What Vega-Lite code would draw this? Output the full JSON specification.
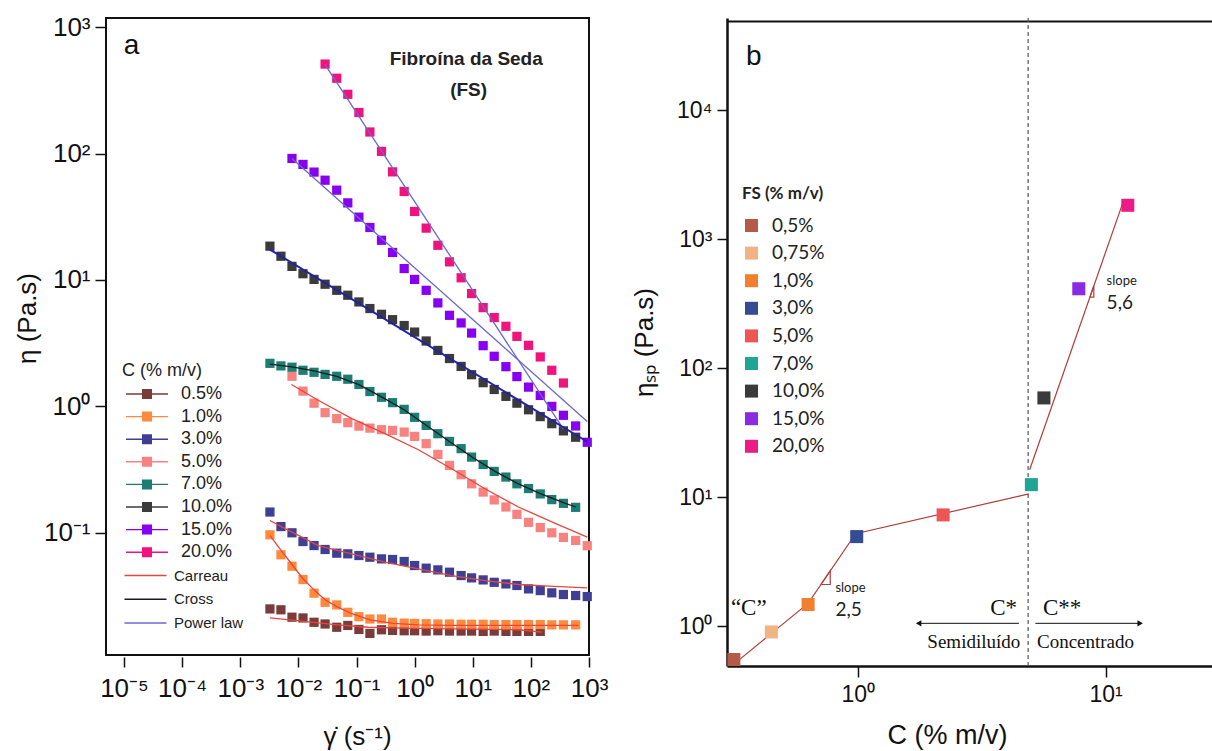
{
"$schema":"https://vega.github.io/schema/vega-lite/v6.json",
"padding":{"left":13,"top":13,"right":0,"bottom":0},
"background":"white",
"config":{
 "view":{"stroke":"#111","strokeWidth":2},
 "font":"Liberation Sans",
 "axis":{"grid":false,"labelFont":"Liberation Sans","titleFont":"Liberation Sans","labelColor":"#111","titleColor":"#111","tickColor":"#111","domainColor":"#111","labelFlush":false,"labelOverlap":false},
 "legend":{"labelColor":"#222","titleColor":"#222"}
},
"spacing":138,
"bounds":"flush",
"resolve":{"scale":{"fill":"independent","stroke":"independent","shape":"independent","color":"independent"}},
"datasets":{
"eta":[
{"c":"0.5%","x":0.00324,"y":0.025},{"c":"0.5%","x":0.00501,"y":0.0246},{"c":"0.5%","x":0.00776,"y":0.0215},{"c":"0.5%","x":0.012,"y":0.0212},{"c":"0.5%","x":0.0186,"y":0.0196},{"c":"0.5%","x":0.0288,"y":0.019},{"c":"0.5%","x":0.0457,"y":0.0179},{"c":"0.5%","x":0.0708,"y":0.0185},{"c":"0.5%","x":0.11,"y":0.0172},{"c":"0.5%","x":0.17,"y":0.016},{"c":"0.5%","x":0.269,"y":0.0171},{"c":"0.5%","x":0.417,"y":0.0169},{"c":"0.5%","x":0.661,"y":0.0168},{"c":"0.5%","x":1,"y":0.0168},{"c":"0.5%","x":1.58,"y":0.0167},{"c":"0.5%","x":2.51,"y":0.0168},{"c":"0.5%","x":3.98,"y":0.0167},{"c":"0.5%","x":6.31,"y":0.0167},{"c":"0.5%","x":9.55,"y":0.0167},{"c":"0.5%","x":15.1,"y":0.0166},{"c":"0.5%","x":23.4,"y":0.0167},{"c":"0.5%","x":37.2,"y":0.0166},{"c":"0.5%","x":57.5,"y":0.0166},{"c":"0.5%","x":91.2,"y":0.0166},{"c":"0.5%","x":145,"y":0.0166},
{"c":"1.0%","x":0.00324,"y":0.0964},{"c":"1.0%","x":0.00501,"y":0.067},{"c":"1.0%","x":0.00776,"y":0.0544},{"c":"1.0%","x":0.012,"y":0.0427},{"c":"1.0%","x":0.0186,"y":0.0333},{"c":"1.0%","x":0.0288,"y":0.0282},{"c":"1.0%","x":0.0457,"y":0.0269},{"c":"1.0%","x":0.0708,"y":0.0235},{"c":"1.0%","x":0.11,"y":0.0217},{"c":"1.0%","x":0.17,"y":0.0208},{"c":"1.0%","x":0.269,"y":0.0208},{"c":"1.0%","x":0.417,"y":0.0196},{"c":"1.0%","x":0.661,"y":0.0193},{"c":"1.0%","x":1,"y":0.0192},{"c":"1.0%","x":1.58,"y":0.0191},{"c":"1.0%","x":2.51,"y":0.019},{"c":"1.0%","x":3.98,"y":0.019},{"c":"1.0%","x":6.31,"y":0.0189},{"c":"1.0%","x":9.55,"y":0.0189},{"c":"1.0%","x":15.1,"y":0.0189},{"c":"1.0%","x":23.4,"y":0.0188},{"c":"1.0%","x":37.2,"y":0.0188},{"c":"1.0%","x":57.5,"y":0.0188},{"c":"1.0%","x":91.2,"y":0.0188},{"c":"1.0%","x":145,"y":0.0188},{"c":"1.0%","x":229,"y":0.0187},{"c":"1.0%","x":363,"y":0.0187},{"c":"1.0%","x":589,"y":0.0187},
{"c":"3.0%","x":0.00324,"y":0.146},{"c":"3.0%","x":0.00501,"y":0.112},{"c":"3.0%","x":0.00776,"y":0.1},{"c":"3.0%","x":0.012,"y":0.0853},{"c":"3.0%","x":0.0186,"y":0.0793},{"c":"3.0%","x":0.0288,"y":0.0738},{"c":"3.0%","x":0.0457,"y":0.069},{"c":"3.0%","x":0.0708,"y":0.0682},{"c":"3.0%","x":0.11,"y":0.0661},{"c":"3.0%","x":0.17,"y":0.0641},{"c":"3.0%","x":0.269,"y":0.0622},{"c":"3.0%","x":0.417,"y":0.0615},{"c":"3.0%","x":0.661,"y":0.0593},{"c":"3.0%","x":1,"y":0.0551},{"c":"3.0%","x":1.58,"y":0.0525},{"c":"3.0%","x":2.51,"y":0.0509},{"c":"3.0%","x":3.98,"y":0.0488},{"c":"3.0%","x":6.31,"y":0.0459},{"c":"3.0%","x":9.55,"y":0.044},{"c":"3.0%","x":15.1,"y":0.0424},{"c":"3.0%","x":23.4,"y":0.0406},{"c":"3.0%","x":37.2,"y":0.0394},{"c":"3.0%","x":57.5,"y":0.0383},{"c":"3.0%","x":91.2,"y":0.036},{"c":"3.0%","x":145,"y":0.0349},{"c":"3.0%","x":229,"y":0.0335},{"c":"3.0%","x":363,"y":0.0325},{"c":"3.0%","x":589,"y":0.0319},{"c":"3.0%","x":933,"y":0.0313},
{"c":"5.0%","x":0.00776,"y":1.73},{"c":"5.0%","x":0.012,"y":1.32},{"c":"5.0%","x":0.0186,"y":1.06},{"c":"5.0%","x":0.0288,"y":0.892},{"c":"5.0%","x":0.0457,"y":0.8},{"c":"5.0%","x":0.0708,"y":0.743},{"c":"5.0%","x":0.11,"y":0.698},{"c":"5.0%","x":0.17,"y":0.673},{"c":"5.0%","x":0.269,"y":0.654},{"c":"5.0%","x":0.417,"y":0.645},{"c":"5.0%","x":0.661,"y":0.626},{"c":"5.0%","x":1,"y":0.579},{"c":"5.0%","x":1.58,"y":0.507},{"c":"5.0%","x":2.51,"y":0.417},{"c":"5.0%","x":3.98,"y":0.341},{"c":"5.0%","x":6.31,"y":0.288},{"c":"5.0%","x":9.55,"y":0.244},{"c":"5.0%","x":15.1,"y":0.21},{"c":"5.0%","x":23.4,"y":0.182},{"c":"5.0%","x":37.2,"y":0.16},{"c":"5.0%","x":57.5,"y":0.14},{"c":"5.0%","x":91.2,"y":0.121},{"c":"5.0%","x":145,"y":0.11},{"c":"5.0%","x":229,"y":0.1},{"c":"5.0%","x":363,"y":0.092},{"c":"5.0%","x":589,"y":0.087},{"c":"5.0%","x":933,"y":0.079},
{"c":"7.0%","x":0.00324,"y":2.19},{"c":"7.0%","x":0.00501,"y":2.09},{"c":"7.0%","x":0.00776,"y":2.04},{"c":"7.0%","x":0.012,"y":1.93},{"c":"7.0%","x":0.0186,"y":1.86},{"c":"7.0%","x":0.0288,"y":1.79},{"c":"7.0%","x":0.0457,"y":1.73},{"c":"7.0%","x":0.0708,"y":1.64},{"c":"7.0%","x":0.11,"y":1.49},{"c":"7.0%","x":0.17,"y":1.31},{"c":"7.0%","x":0.269,"y":1.18},{"c":"7.0%","x":0.417,"y":1.07},{"c":"7.0%","x":0.661,"y":0.947},{"c":"7.0%","x":1,"y":0.819},{"c":"7.0%","x":1.58,"y":0.707},{"c":"7.0%","x":2.51,"y":0.608},{"c":"7.0%","x":3.98,"y":0.528},{"c":"7.0%","x":6.31,"y":0.463},{"c":"7.0%","x":9.55,"y":0.397},{"c":"7.0%","x":15.1,"y":0.347},{"c":"7.0%","x":23.4,"y":0.306},{"c":"7.0%","x":37.2,"y":0.276},{"c":"7.0%","x":57.5,"y":0.244},{"c":"7.0%","x":91.2,"y":0.224},{"c":"7.0%","x":145,"y":0.203},{"c":"7.0%","x":229,"y":0.183},{"c":"7.0%","x":363,"y":0.171},{"c":"7.0%","x":589,"y":0.159},
{"c":"10.0%","x":0.00324,"y":18.5},{"c":"10.0%","x":0.00501,"y":15.4},{"c":"10.0%","x":0.00776,"y":12.8},{"c":"10.0%","x":0.012,"y":11.2},{"c":"10.0%","x":0.0186,"y":10.1},{"c":"10.0%","x":0.0288,"y":9.25},{"c":"10.0%","x":0.0457,"y":8.28},{"c":"10.0%","x":0.0708,"y":7.57},{"c":"10.0%","x":0.11,"y":6.7},{"c":"10.0%","x":0.17,"y":5.94},{"c":"10.0%","x":0.269,"y":5.35},{"c":"10.0%","x":0.417,"y":4.85},{"c":"10.0%","x":0.661,"y":4.36},{"c":"10.0%","x":1,"y":3.87},{"c":"10.0%","x":1.58,"y":3.29},{"c":"10.0%","x":2.51,"y":2.77},{"c":"10.0%","x":3.98,"y":2.39},{"c":"10.0%","x":6.31,"y":2.07},{"c":"10.0%","x":9.55,"y":1.78},{"c":"10.0%","x":15.1,"y":1.54},{"c":"10.0%","x":23.4,"y":1.36},{"c":"10.0%","x":37.2,"y":1.2},{"c":"10.0%","x":57.5,"y":1.06},{"c":"10.0%","x":91.2,"y":0.94},{"c":"10.0%","x":145,"y":0.83},{"c":"10.0%","x":229,"y":0.73},{"c":"10.0%","x":363,"y":0.64},{"c":"10.0%","x":589,"y":0.57},
{"c":"15.0%","x":0.00776,"y":91.4},{"c":"15.0%","x":0.012,"y":82},{"c":"15.0%","x":0.0186,"y":71.3},{"c":"15.0%","x":0.0288,"y":61.5},{"c":"15.0%","x":0.0457,"y":51.3},{"c":"15.0%","x":0.0708,"y":40.7},{"c":"15.0%","x":0.11,"y":31.4},{"c":"15.0%","x":0.17,"y":26},{"c":"15.0%","x":0.269,"y":20.6},{"c":"15.0%","x":0.417,"y":16.5},{"c":"15.0%","x":0.661,"y":12.3},{"c":"15.0%","x":1,"y":10.1},{"c":"15.0%","x":1.58,"y":8.28},{"c":"15.0%","x":2.51,"y":6.58},{"c":"15.0%","x":3.98,"y":5.25},{"c":"15.0%","x":6.31,"y":4.57},{"c":"15.0%","x":9.55,"y":3.8},{"c":"15.0%","x":15.1,"y":3.02},{"c":"15.0%","x":23.4,"y":2.49},{"c":"15.0%","x":37.2,"y":2.06},{"c":"15.0%","x":57.5,"y":1.72},{"c":"15.0%","x":91.2,"y":1.42},{"c":"15.0%","x":145,"y":1.22},{"c":"15.0%","x":229,"y":1},{"c":"15.0%","x":363,"y":0.85},{"c":"15.0%","x":589,"y":0.7},{"c":"15.0%","x":933,"y":0.52},
{"c":"20.0%","x":0.0288,"y":510},{"c":"20.0%","x":0.0457,"y":394},{"c":"20.0%","x":0.0708,"y":294},{"c":"20.0%","x":0.11,"y":211},{"c":"20.0%","x":0.17,"y":148},{"c":"20.0%","x":0.269,"y":104},{"c":"20.0%","x":0.417,"y":71.6},{"c":"20.0%","x":0.661,"y":50.1},{"c":"20.0%","x":1,"y":34.8},{"c":"20.0%","x":1.58,"y":25.7},{"c":"20.0%","x":2.51,"y":18.8},{"c":"20.0%","x":3.98,"y":13.9},{"c":"20.0%","x":6.31,"y":10.4},{"c":"20.0%","x":9.55,"y":7.8},{"c":"20.0%","x":15.1,"y":6.04},{"c":"20.0%","x":23.4,"y":5.04},{"c":"20.0%","x":37.2,"y":4.3},{"c":"20.0%","x":57.5,"y":3.58},{"c":"20.0%","x":91.2,"y":3.04},{"c":"20.0%","x":145,"y":2.46},{"c":"20.0%","x":229,"y":1.93},{"c":"20.0%","x":363,"y":1.53}
],
"fitsA":[
{"f":"s5","m":"Carreau","x":0.00759,"y":1.49},{"f":"s5","m":"Carreau","x":0.0219,"y":1.117},{"f":"s5","m":"Carreau","x":0.0832,"y":0.8},{"f":"s5","m":"Carreau","x":0.309,"y":0.608},{"f":"s5","m":"Carreau","x":1.16,"y":0.454},{"f":"s5","m":"Carreau","x":4.34,"y":0.321},{"f":"s5","m":"Carreau","x":16.2,"y":0.223},{"f":"s5","m":"Carreau","x":61,"y":0.16},{"f":"s5","m":"Carreau","x":251,"y":0.12},{"f":"s5","m":"Carreau","x":933,"y":0.0923},
{"f":"s3","m":"Carreau","x":0.00324,"y":0.125},{"f":"s3","m":"Carreau","x":0.00589,"y":0.108},{"f":"s3","m":"Carreau","x":0.0115,"y":0.0923},{"f":"s3","m":"Carreau","x":0.0219,"y":0.0793},{"f":"s3","m":"Carreau","x":0.0832,"y":0.0682},{"f":"s3","m":"Carreau","x":0.309,"y":0.0585},{"f":"s3","m":"Carreau","x":1.16,"y":0.0519},{"f":"s3","m":"Carreau","x":4.34,"y":0.0459},{"f":"s3","m":"Carreau","x":16.2,"y":0.0419},{"f":"s3","m":"Carreau","x":61,"y":0.039},{"f":"s3","m":"Carreau","x":251,"y":0.0377},{"f":"s3","m":"Carreau","x":933,"y":0.0367},
{"f":"s1","m":"Carreau","x":0.00324,"y":0.0953},{"f":"s1","m":"Carreau","x":0.00457,"y":0.0769},{"f":"s1","m":"Carreau","x":0.00759,"y":0.0569},{"f":"s1","m":"Carreau","x":0.012,"y":0.0433},{"f":"s1","m":"Carreau","x":0.0191,"y":0.0349},{"f":"s1","m":"Carreau","x":0.0288,"y":0.0295},{"f":"s1","m":"Carreau","x":0.0457,"y":0.0261},{"f":"s1","m":"Carreau","x":0.0832,"y":0.0229},{"f":"s1","m":"Carreau","x":0.17,"y":0.0205},{"f":"s1","m":"Carreau","x":0.427,"y":0.0192},{"f":"s1","m":"Carreau","x":1.16,"y":0.0187},{"f":"s1","m":"Carreau","x":4.34,"y":0.0185},{"f":"s1","m":"Carreau","x":61,"y":0.0185},{"f":"s1","m":"Carreau","x":661,"y":0.0185},
{"f":"s05","m":"Carreau","x":0.00324,"y":0.0212},{"f":"s05","m":"Carreau","x":0.0115,"y":0.02},{"f":"s05","m":"Carreau","x":0.0427,"y":0.0188},{"f":"s05","m":"Carreau","x":0.158,"y":0.0179},{"f":"s05","m":"Carreau","x":0.603,"y":0.0176},{"f":"s05","m":"Carreau","x":4.34,"y":0.0174},{"f":"s05","m":"Carreau","x":61,"y":0.0171},{"f":"s05","m":"Carreau","x":155,"y":0.0164},
{"f":"s7","m":"Cross","x":0.00324,"y":2.16},{"f":"s7","m":"Cross","x":0.00776,"y":2.05},{"f":"s7","m":"Cross","x":0.0186,"y":1.905},{"f":"s7","m":"Cross","x":0.0457,"y":1.726},{"f":"s7","m":"Cross","x":0.11,"y":1.486},{"f":"s7","m":"Cross","x":0.269,"y":1.189},{"f":"s7","m":"Cross","x":0.661,"y":0.94},{"f":"s7","m":"Cross","x":1.58,"y":0.708},{"f":"s7","m":"Cross","x":3.98,"y":0.528},{"f":"s7","m":"Cross","x":9.55,"y":0.4},{"f":"s7","m":"Cross","x":23.4,"y":0.309},{"f":"s7","m":"Cross","x":57.5,"y":0.247},{"f":"s7","m":"Cross","x":145,"y":0.204},{"f":"s7","m":"Cross","x":363,"y":0.173},{"f":"s7","m":"Cross","x":589,"y":0.16},
{"f":"s15","m":"Power law","x":0.00776,"y":91.2},{"f":"s15","m":"Power law","x":933,"y":0.759},
{"f":"s20","m":"Power law","x":0.0286,"y":508},{"f":"s20","m":"Power law","x":363,"y":0.66}
],
"fitBlack":[{"x":0.00324,"y":17.4},{"x":933,"y":0.525}],
"textA":[{"x":0.0000135,"y":705,"t":"a"}],
"textA2":[{"x":7.73,"y":564,"t":"Fibroína da Seda"},{"x":8.5,"y":316,"t":"(FS)"}],
"fsp":[
{"fs":"0,5%","x":0.316,"y":0.55},{"fs":"0,75%","x":0.448,"y":0.9},{"fs":"1,0%","x":0.63,"y":1.47},{"fs":"3,0%","x":0.99,"y":4.94},{"fs":"5,0%","x":2.21,"y":7.28},{"fs":"7,0%","x":5.02,"y":12.5},{"fs":"10,0%","x":5.64,"y":58.8},{"fs":"15,0%","x":7.8,"y":413},{"fs":"20,0%","x":12.3,"y":1834}
],
"fitB":[
{"s":1,"x":0.328,"y":0.537},{"s":1,"x":0.448,"y":0.877},{"s":1,"x":0.63,"y":1.5},{"s":1,"x":0.98,"y":5.2},{"s":1,"x":4.9,"y":10.6},
{"s":2,"x":4.94,"y":16.3},{"s":2,"x":11.75,"y":1923}
],
"tri":[
{"t":1,"o":1,"x":0.71,"y":2.1},{"t":1,"o":2,"x":0.774,"y":2.1},{"t":1,"o":3,"x":0.774,"y":2.69},{"t":1,"o":4,"x":0.71,"y":2.1},
{"t":2,"o":1,"x":8.65,"y":356},{"t":2,"o":2,"x":8.97,"y":356},{"t":2,"o":3,"x":8.97,"y":436},{"t":2,"o":4,"x":8.65,"y":356}
],
"vline":[{"x":4.87}],
"arrows":[{"x":4.47,"x2":1.76,"y":1.05},{"x":5.21,"x2":13.8,"y":1.05}],
"heads":[{"x":1.76,"y":1.05,"d":"l"},{"x":13.8,"y":1.05,"d":"r"}],
"serifBig":[{"x":0.363,"y":1.37,"t":"“C”"},{"x":3.88,"y":1.37,"t":"C*"},{"x":6.68,"y":1.37,"t":"C**"}],
"serifSmall":[{"x":2.94,"y":0.755,"t":"Semidiluído"},{"x":8.3,"y":0.755,"t":"Concentrado"}],
"slopeWord":[{"x":0.812,"y":1.96,"t":"slope"},{"x":10.1,"y":473,"t":"slope"}],
"slopeNum":[{"x":0.812,"y":1.33,"t":"2,5"},{"x":10.1,"y":322,"t":"5,6"}],
"textB":[{"x":0.38,"y":26000,"t":"b"}]
},
"hconcat":[
{
 "width":483,"height":637,
 "layer":[
  {"data":{"name":"eta"},
   "mark":{"type":"point","shape":"square","filled":true,"size":85,"opacity":1},
   "encoding":{
    "x":{"field":"x","type":"quantitative","scale":{"type":"log","domain":[0.0000049,1000],"nice":false},
     "axis":{"values":[0.00001,0.0001,0.001,0.01,0.1,1,10,100,1000],"labelExpr":"'10' + ['⁻⁵','⁻⁴','⁻³','⁻²','⁻¹','⁰','¹','²','³','⁴'][round(log(datum.value)/LN10)+5]","labelFontSize":26,"tickSize":10,"tickWidth":1.5,"offset":2,"domain":false,"labelPadding":8,"title":"γ̇ (s⁻¹)","titleFontSize":26,"titleFontWeight":"normal","titleX":251,"titleY":79,"titleBaseline":"middle"}},
    "y":{"field":"y","type":"quantitative","scale":{"type":"log","domain":[0.0108,1180],"nice":false},
     "axis":{"values":[0.1,1,10,100,1000],"labelExpr":"'10' + ['⁻⁵','⁻⁴','⁻³','⁻²','⁻¹','⁰','¹','²','³','⁴'][round(log(datum.value)/LN10)+5]","labelFontSize":26,"tickSize":11,"tickWidth":1.5,"domain":false,"labelPadding":5,"title":"η (Pa.s)","titleFontSize":26,"titleFontWeight":"normal","titleX":-79,"titleY":300,"titleAlign":"center","titleBaseline":"middle"}},
    "fill":{"field":"c","type":"nominal",
     "scale":{"domain":["0.5%","1.0%","3.0%","5.0%","7.0%","10.0%","15.0%","20.0%"],"range":["#7a3b3b","#ff8a3d","#3f3f96","#f7827f","#1b7d74","#3b3b3b","#8800f0","#f0137e"]},
     "legend":{"orient":"none","legendX":16,"legendY":344,"title":"C (% m/v)","titleFont":"Liberation Sans","titleFontSize":18,"titleFontWeight":"normal","titlePadding":5,"labelFont":"Liberation Sans","labelFontSize":18,"symbolType":"M-1,-0.14H7.4V0.14H-1Z M2.2,-1H4.2V1H2.2Z","symbolSize":100,"symbolStrokeWidth":0,"labelOffset":41,"rowPadding":4.6,"padding":0}}
   }},
  {"data":{"name":"fitsA"},
   "mark":{"type":"line","strokeWidth":1.3},
   "encoding":{
    "x":{"field":"x","type":"quantitative"},
    "y":{"field":"y","type":"quantitative"},
    "stroke":{"field":"m","type":"nominal","scale":{"domain":["Carreau","Cross","Power law"],"range":["#e8453c","#1a1a1a","#6868d0"]},
     "legend":{"orient":"none","legendX":16,"legendY":550,"title":null,"labelFont":"Liberation Sans","labelFontSize":15,"symbolType":"M-1,0H7.4","symbolSize":100,"symbolStrokeWidth":1.5,"labelOffset":37,"rowPadding":7.8,"padding":0}},
    "detail":{"field":"f","type":"nominal"}
   }},
  {"data":{"name":"fitBlack"},
   "mark":{"type":"line","strokeWidth":2,"color":"#2222a8"},
   "encoding":{"x":{"field":"x","type":"quantitative"},"y":{"field":"y","type":"quantitative"}}},
  {"data":{"name":"textA"},
   "mark":{"type":"text","font":"Liberation Sans","fontSize":28,"align":"center","baseline":"middle","color":"#111"},
   "encoding":{"x":{"field":"x","type":"quantitative"},"y":{"field":"y","type":"quantitative"},"text":{"field":"t"}}},
  {"data":{"name":"textA2"},
   "mark":{"type":"text","font":"Liberation Sans","fontSize":19,"fontWeight":"bold","align":"center","baseline":"middle","color":"#222"},
   "encoding":{"x":{"field":"x","type":"quantitative"},"y":{"field":"y","type":"quantitative"},"text":{"field":"t"}}}
 ]
},
{
 "width":485,"height":648,
 "view":{"stroke":null},
 "resolve":{"axis":{"x":"independent"}},
 "layer":[
  {"data":{"name":"vline"},
   "mark":{"type":"rule","strokeDash":[4,3],"color":"#555","strokeWidth":1.2},
   "encoding":{"x":{"field":"x","type":"quantitative","scale":{"type":"log","domain":[0.2965,26.9],"nice":false},
     "axis":{"orient":"top","labels":false,"ticks":false,"domain":true,"domainWidth":2,"domainColor":"#111","offset":-3,"title":null}}}},
  {"data":{"name":"fitB"},
   "mark":{"type":"line","color":"#b03c3c","strokeWidth":1.2},
   "encoding":{"x":{"field":"x","type":"quantitative","axis":null},"y":{"field":"y","type":"quantitative"},"detail":{"field":"s","type":"nominal"}}},
  {"data":{"name":"tri"},
   "mark":{"type":"line","color":"#b03c3c","strokeWidth":1.2},
   "encoding":{"x":{"field":"x","type":"quantitative","axis":null},"y":{"field":"y","type":"quantitative"},"detail":{"field":"t","type":"nominal"},"order":{"field":"o","type":"quantitative"}}},
  {"data":{"name":"fsp"},
   "mark":{"type":"point","shape":"square","filled":true,"size":170,"opacity":1},
   "encoding":{
    "x":{"field":"x","type":"quantitative",
     "axis":{"orient":"bottom","values":[1,10],"labelExpr":"'10' + ['⁻⁵','⁻⁴','⁻³','⁻²','⁻¹','⁰','¹','²','³','⁴'][round(log(datum.value)/LN10)+5]","labelFontSize":23,"tickSize":11,"tickWidth":1.5,"domain":true,"domainWidth":2.5,"labelPadding":6,"title":"C (% m/v)","titleFontSize":27,"titleFontWeight":"normal","titleX":220,"titleY":69,"titleBaseline":"middle"}},
    "y":{"field":"y","type":"quantitative","scale":{"type":"log","domain":[0.49,52000],"nice":false},
     "axis":{"values":[1,10,100,1000,10000],"labelExpr":"'10' + ['⁻⁵','⁻⁴','⁻³','⁻²','⁻¹','⁰','¹','²','³','⁴'][round(log(datum.value)/LN10)+5]","labelFontSize":23,"tickSize":10,"tickWidth":1.5,"domain":true,"domainWidth":2.5,"labelPadding":5,"title":"ηₛₚ (Pa.s)","titleFontSize":26,"titleFontWeight":"normal","titleX":-83,"titleY":324,"titleAlign":"center","titleBaseline":"middle"}},
    "fill":{"field":"fs","type":"nominal",
     "scale":{"domain":["0,5%","0,75%","1,0%","3,0%","5,0%","7,0%","10,0%","15,0%","20,0%"],"range":["#b55a48","#f2b384","#f08030","#344c94","#ee5555","#1fa595","#3a3a3a","#8a2be2","#ec1c86"]},
     "legend":{"orient":"none","legendX":15,"legendY":168,"title":"FS (% m/v)","titleFont":"Lato","titleFontSize":17,"titleFontWeight":"bold","titlePadding":13,"labelFont":"Lato","labelFontSize":19,"symbolType":"square","symbolSize":169,"symbolStrokeWidth":0,"labelOffset":11,"rowPadding":7.6,"padding":0}}
   }},
  {"data":{"name":"arrows"},
   "mark":{"type":"rule","color":"#111","strokeWidth":1},
   "encoding":{"x":{"field":"x","type":"quantitative","axis":null},"x2":{"field":"x2"},"y":{"field":"y","type":"quantitative"}}},
  {"data":{"name":"heads"},
   "mark":{"type":"point","filled":true,"size":40,"opacity":1,"color":"#111"},
   "encoding":{"x":{"field":"x","type":"quantitative","axis":null},"y":{"field":"y","type":"quantitative"},
    "shape":{"field":"d","type":"nominal","scale":{"domain":["l","r"],"range":["triangle-left","triangle-right"]},"legend":null}}},
  {"data":{"name":"serifBig"},
   "mark":{"type":"text","font":"Liberation Serif","fontSize":23,"align":"center","baseline":"middle","color":"#111"},
   "encoding":{"x":{"field":"x","type":"quantitative","axis":null},"y":{"field":"y","type":"quantitative"},"text":{"field":"t"}}},
  {"data":{"name":"serifSmall"},
   "mark":{"type":"text","font":"Liberation Serif","fontSize":19,"align":"center","baseline":"middle","color":"#111"},
   "encoding":{"x":{"field":"x","type":"quantitative","axis":null},"y":{"field":"y","type":"quantitative"},"text":{"field":"t"}}},
  {"data":{"name":"slopeWord"},
   "mark":{"type":"text","font":"Lato","fontSize":13,"align":"left","baseline":"middle","color":"#222"},
   "encoding":{"x":{"field":"x","type":"quantitative","axis":null},"y":{"field":"y","type":"quantitative"},"text":{"field":"t"}}},
  {"data":{"name":"slopeNum"},
   "mark":{"type":"text","font":"Lato","fontSize":19,"align":"left","baseline":"middle","color":"#222"},
   "encoding":{"x":{"field":"x","type":"quantitative","axis":null},"y":{"field":"y","type":"quantitative"},"text":{"field":"t"}}},
  {"data":{"name":"textB"},
   "mark":{"type":"text","font":"Liberation Sans","fontSize":28,"align":"center","baseline":"middle","color":"#111"},
   "encoding":{"x":{"field":"x","type":"quantitative","axis":null},"y":{"field":"y","type":"quantitative"},"text":{"field":"t"}}}
 ]
}
]
}
